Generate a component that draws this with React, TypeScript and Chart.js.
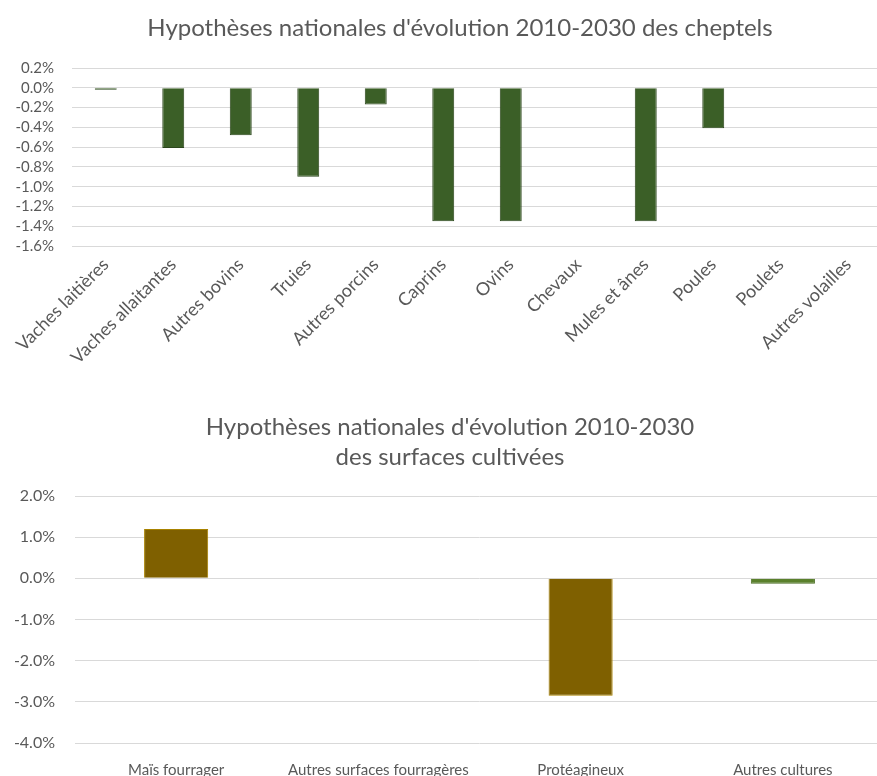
import React, { useEffect, useRef } from 'react';
import { Chart, registerables } from 'chart.js';
Chart.register(...registerables);

const livestockTitle = "Hypothèses nationales d'évolution 2010-2030 des cheptels";
const livestockCategories = [
  'Vaches laitières', 'Vaches allaitantes', 'Autres bovins', 'Truies', 'Autres porcins',
  'Caprins', 'Ovins', 'Chevaux', 'Mules et ânes', 'Poules', 'Poulets', 'Autres volailles',
];
const livestockValues = [-0.02, -0.61, -0.48, -0.9, -0.17, -1.35, -1.35, 0, -1.35, -0.41, 0, 0];
const livestockMin = -1.6;
const livestockMax = 0.2;
const livestockStep = 0.2;

const cropTitle = ["Hypothèses nationales d'évolution 2010-2030", 'des surfaces cultivées'];
const cropCategories = ['Maïs fourrager', 'Autres surfaces fourragères', 'Protéagineux', 'Autres cultures'];
const cropValues = [1.2, 0, -2.85, -0.13];
const cropColors = ['#7f6000', '#7f6000', '#7f6000', '#5a802c'];
const cropBorders = ['#a88200', '#a88200', '#a88200', '#4a6d22'];
const cropMin = -4;
const cropMax = 2;
const cropStep = 1;

const FONT = 'Lato, "Open Sans", sans-serif';
const TXT = '#595959';
const GRID = '#d9d9d9';

// shifts the title's centre to the right by `shift` px
const titleShift = (id: string, shift: number) => ({
  id,
  afterLayout(chart: any) {
    if (chart.titleBlock) chart.titleBlock.left += shift * 2;
  },
});

function LivestockChart() {
  const ref = useRef<HTMLCanvasElement>(null);
  useEffect(() => {
    const chart = new Chart(ref.current!, {
      type: 'bar',
      data: {
        labels: livestockCategories,
        datasets: [{
          data: livestockValues,
          backgroundColor: '#3b5f27',
          borderColor: '#2c471d',
          borderWidth: 1,
          barPercentage: 0.325,
          categoryPercentage: 1,
        }],
      },
      plugins: [titleShift('shift1', 19)],
      options: {
        responsive: false,
        animation: false,
        layout: { padding: 0 },
        plugins: {
          legend: { display: false },
          tooltip: { enabled: false },
          title: {
            display: true,
            text: livestockTitle,
            color: TXT,
            font: { family: FONT, size: 24, weight: 'normal', lineHeight: 1.2 },
            padding: { top: 13.6, bottom: 25.6 },
          },
        },
        scales: {
          x: {
            grid: { display: false, drawTicks: false },
            border: { display: false },
            ticks: {
              color: TXT,
              font: { family: FONT, size: 18 },
              minRotation: 45,
              maxRotation: 45,
              autoSkip: false,
              padding: 8,
            },
            afterFit: (axis: any) => { axis.height = 144; },
          },
          y: {
            min: livestockMin,
            max: livestockMax,
            grid: { color: GRID, lineWidth: 1, drawTicks: false },
            border: { display: false },
            ticks: {
              stepSize: livestockStep,
              autoSkip: false,
              color: TXT,
              font: { family: FONT, size: 15 },
              padding: 18,
              callback: (v: any) => Number(v).toFixed(1) + '%',
            },
            afterFit: (axis: any) => { axis.width = 72; },
          },
        },
      },
    });
    return () => chart.destroy();
  }, []);
  return <canvas ref={ref} width={882} height={390} style={{ display: 'block' }} />;
}

function CropChart() {
  const ref = useRef<HTMLCanvasElement>(null);
  useEffect(() => {
    const chart = new Chart(ref.current!, {
      type: 'bar',
      data: {
        labels: cropCategories,
        datasets: [{
          data: cropValues,
          backgroundColor: cropColors,
          borderColor: cropBorders,
          borderWidth: 1,
          barPercentage: 0.317,
          categoryPercentage: 1,
        }],
      },
      plugins: [titleShift('shift2', 8)],
      options: {
        responsive: false,
        animation: false,
        layout: { padding: 0 },
        plugins: {
          legend: { display: false },
          tooltip: { enabled: false },
          title: {
            display: true,
            text: cropTitle,
            color: TXT,
            font: { family: FONT, size: 24, weight: 'normal', lineHeight: 1.25 },
            padding: { top: 22, bottom: 24 },
          },
        },
        scales: {
          x: {
            grid: { display: false, drawTicks: false },
            border: { display: false },
            ticks: {
              color: TXT,
              font: { family: FONT, size: 15 },
              maxRotation: 0,
              autoSkip: false,
              padding: 18,
            },
            afterFit: (axis: any) => { axis.height = 33; },
          },
          y: {
            min: cropMin,
            max: cropMax,
            grid: { color: GRID, lineWidth: 1, drawTicks: false },
            border: { display: false },
            ticks: {
              stepSize: cropStep,
              autoSkip: false,
              color: TXT,
              font: { family: FONT, size: 16 },
              padding: 20,
              callback: (v: any) => Number(v).toFixed(1) + '%',
            },
            afterFit: (axis: any) => { axis.width = 75; },
          },
        },
      },
    });
    return () => chart.destroy();
  }, []);
  return <canvas ref={ref} width={884} height={386} style={{ display: 'block' }} />;
}

export default function App() {
  useEffect(() => {
    document.body.style.margin = '0';
    document.body.style.background = '#ffffff';
  }, []);
  return (
    <div style={{ position: 'absolute', left: 0, top: 0, width: 877, height: 776, overflow: 'hidden', background: '#fff' }}>
      <LivestockChart />
      <CropChart />
    </div>
  );
}
